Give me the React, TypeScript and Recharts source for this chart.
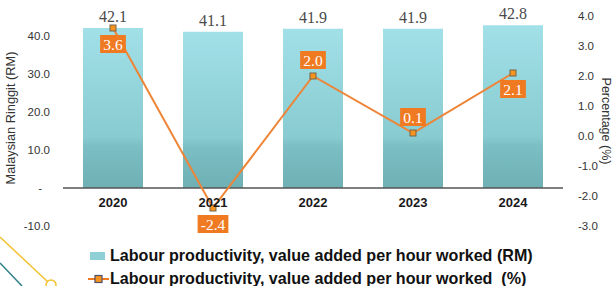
import React from "react";
import { ComposedChart, Bar, Line, XAxis, YAxis, ReferenceLine, LabelList, Legend } from "recharts";

const years = ["2020", "2021", "2022", "2023", "2024"];
const productivityRM = [42.1, 41.1, 41.9, 41.9, 42.8];
const growthPct = [3.6, -2.4, 2.0, 0.1, 2.1];
const leftTicks = [-10, 0, 10, 20, 30, 40];
const rightTicks = [-3, -2, -1, 0, 1, 2, 3, 4];
// where each orange value box sits relative to its point
const labelSide = ["below", "below", "above", "above", "below"];

const barName = "Labour productivity, value added per hour worked (RM)";
const lineName = "Labour productivity, value added per hour worked  (%)";

const data = years.map((year, i) => ({ year, rm: productivityRM[i], pct: growthPct[i] }));

const SANS = "'Liberation Sans', Arial, sans-serif";
const SERIF = "'Liberation Serif', 'DejaVu Serif', serif";
const ORANGE = "#F07A22";

function YearTick({ x, y, payload }: any) {
  return (
    <text x={x} y={y - 27} textAnchor="middle" fontFamily={SANS} fontWeight={700} fontSize={13} fill="#1a1a1a">
      {payload.value}
    </text>
  );
}

function LeftTick({ x, y, payload }: any) {
  const v = payload.value;
  return (
    <text x={v === 0 ? x - 13 : x - 5} y={y} dy="0.35em" textAnchor="end" fontFamily={SANS} fontSize={11.5} fill="#333">
      {v === 0 ? "-" : v.toFixed(1)}
    </text>
  );
}

function RightTick({ x, y, payload }: any) {
  return (
    <text x={x + 7} y={y} dy="0.35em" textAnchor="start" fontFamily={SANS} fontSize={11.5} fill="#333">
      {payload.value.toFixed(1)}
    </text>
  );
}

function SquareDot({ cx, cy }: any) {
  if (cx == null || cy == null) return null;
  return <rect x={cx - 3} y={cy - 3} width={6} height={6} fill="#F7941D" stroke="#76654d" strokeWidth={1} />;
}

function textWidth(s: string) {
  let w = 0;
  for (const c of s) w += c === "." ? 3.75 : c === "-" ? 5 : 7.5;
  return w;
}

function PctLabel({ x, y, value, index }: any) {
  const txt = Number(value).toFixed(1);
  const w = textWidth(txt) + 7;
  const h = 18;
  const top = labelSide[index] === "below" ? y + 7 : y - 7 - h;
  return (
    <g>
      <rect x={x - w / 2} y={top} width={w} height={h} fill={ORANGE} />
      <text x={x} y={top + h / 2} dy="0.36em" textAnchor="middle" fill="#fff" fontFamily={SERIF} fontSize={15.5}>
        {txt}
      </text>
    </g>
  );
}

function LegendBox({ payload }: any) {
  const items = [...(payload || [])].sort((a: any, b: any) => (a.type === "line" ? 1 : 0) - (b.type === "line" ? 1 : 0));
  return (
    <div style={{ fontFamily: SANS, fontWeight: 700, fontSize: 16.1, color: "#111" }}>
      {items.map((item: any) => (
        <div key={item.value} style={{ display: "flex", alignItems: "center", height: 23, whiteSpace: "pre" }}>
          {item.type === "line" ? (
            <svg width={22} height={12}>
              <line x1={0} y1={6} x2={21} y2={6} stroke={ORANGE} strokeWidth={2} />
              <rect x={7} y={2.5} width={7} height={7} fill="#F7941D" stroke="#4f4f6e" strokeWidth={1.2} />
            </svg>
          ) : (
            <svg width={22} height={12}>
              <rect x={2} y={2} width={15} height={8} fill="#8FD0D6" />
            </svg>
          )}
          <span>{item.value}</span>
        </div>
      ))}
    </div>
  );
}

export default function App() {
  return (
    <div style={{ position: "absolute", left: 0, top: 0, width: 613, height: 286, background: "#fff", overflow: "hidden" }}>
      <svg width={613} height={286} style={{ position: "absolute", left: 0, top: 0 }}>
        <line x1={0} y1={237} x2={48} y2={282} stroke="#F2C230" strokeWidth={1.5} />
        <circle cx={51} cy={285} r={5} fill="#fff" stroke="#F2C230" strokeWidth={1.5} />
        <line x1={0} y1={263} x2={22} y2={286} stroke="#2E7F86" strokeWidth={1.5} />
      </svg>
      <div style={{ position: "absolute", left: 0, top: 0 }}>
        <ComposedChart width={613} height={286} data={data} margin={{ top: 16, right: 0, bottom: 40, left: 0 }}>
          <defs>
            <linearGradient id="barTeal" x1="0" y1="0" x2="0" y2="1">
              <stop offset="0" stopColor="#A2E0E8" />
              <stop offset="0.68" stopColor="#88CBD1" />
              <stop offset="0.74" stopColor="#7BBEC3" />
              <stop offset="1" stopColor="#6EB0B4" />
            </linearGradient>
          </defs>
          <XAxis dataKey="year" height={20} axisLine={false} tickLine={false} tick={<YearTick />} interval={0} />
          <YAxis
            yAxisId="left"
            width={63}
            domain={[-10, 45.26]}
            ticks={leftTicks}
            allowDataOverflow
            axisLine={false}
            tickLine={false}
            tick={<LeftTick />}
            label={{
              value: "Malaysian Ringgit (RM)",
              angle: -90,
              position: "center",
              dx: -21,
              dy: -3,
              fontFamily: SANS,
              fontSize: 12.8,
              fill: "#333",
            }}
          />
          <YAxis
            yAxisId="right"
            orientation="right"
            width={50}
            domain={[-3, 4]}
            ticks={rightTicks}
            allowDataOverflow
            axisLine={false}
            tickLine={false}
            tick={<RightTick />}
            label={{
              value: "Percentage (%)",
              angle: 90,
              position: "center",
              dx: 18,
              fontFamily: SANS,
              fontSize: 12.5,
              fill: "#333",
            }}
          />
          <Bar yAxisId="left" dataKey="rm" name={barName} barSize={60} fill="url(#barTeal)" isAnimationActive={false}>
            <LabelList
              dataKey="rm"
              position="top"
              offset={6}
              fill="#4a4a4a"
              fontFamily={SERIF}
              fontSize={16}
              formatter={(v: any) => Number(v).toFixed(1)}
            />
          </Bar>
          <ReferenceLine yAxisId="left" y={0} stroke="#555" strokeWidth={1.5} />
          <Line
            yAxisId="right"
            dataKey="pct"
            name={lineName}
            type="linear"
            stroke="#EE8436"
            strokeWidth={2}
            dot={<SquareDot />}
            activeDot={false}
            legendType="line"
            isAnimationActive={false}
          >
            <LabelList dataKey="pct" content={<PctLabel />} />
          </Line>
          <Legend
            layout="horizontal"
            verticalAlign="middle"
            align="center"
            wrapperStyle={{ left: 88, top: 244, width: 525 }}
            content={<LegendBox />}
          />
        </ComposedChart>
      </div>
    </div>
  );
}
